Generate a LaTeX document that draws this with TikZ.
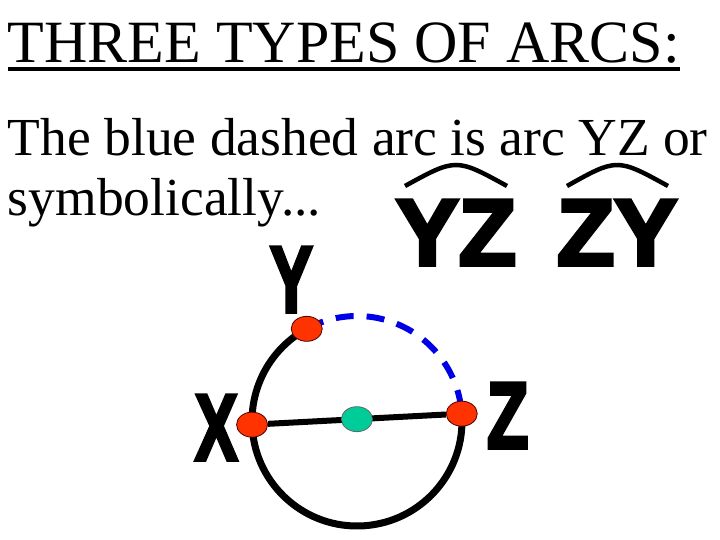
\documentclass[tikz,border=0pt]{standalone}
\usepackage{fontspec}
\setmainfont{Liberation Serif}
\newfontfamily\heavyfont[FakeBold=4]{Liberation Sans Bold}
\usetikzlibrary{calc,shapes.geometric}
\definecolor{dotred}{RGB}{255,51,0}
\definecolor{dotgreen}{RGB}{0,204,153}
\definecolor{arcblue}{RGB}{0,0,230}
\tikzset{
  txt/.style={anchor=base west, inner sep=0pt, outer sep=0pt},
  heavy/.style={anchor=base west, inner sep=0pt, outer sep=0pt, font=\heavyfont\fontsize{94}{94}\selectfont},
  reddot/.style={ellipse, minimum width=31pt, minimum height=25pt, inner sep=0pt, fill=dotred, draw=black!70!red, line width=0.8pt},
  greendot/.style={ellipse, minimum width=31pt, minimum height=25pt, inner sep=0pt, fill=dotgreen, draw=black!60, line width=0.8pt},
  arcline/.style={line width=7pt},
  chord/.style={line width=6pt},
  bluedash/.style={line width=6pt, draw=arcblue, dash pattern=on 18pt off 13pt},
  overarc/.style={line width=4.5pt}
}
\begin{document}
\begin{tikzpicture}[x=1pt,y=-1pt]
\useasboundingbox (0,0) rectangle (720,540);
% title
\node[txt, font=\fontsize{60}{60}\selectfont] (title) at (8,63) {THREE TYPES OF ARCS:};
\draw[line width=3.5pt] ([yshift=-6pt]title.base west) -- ([yshift=-6pt]title.base east);
% body
\node[txt, font=\fontsize{53.5}{53.5}\selectfont] (l1) at (8,156) {The blue dashed arc is arc YZ or};
\node[txt, font=\fontsize{53.5}{53.5}\selectfont] (l2) at (8,215) {symbolically...};
% symbols
\node[heavy] (yz) at (396,265) {YZ};
\node[heavy] (zy) at (557,265) {ZY};
\draw[overarc] (405,186) .. controls (456,158) .. (507,186);
\draw[overarc] (567,186) .. controls (617,158) .. (668,186);
% circle
\coordinate (O) at (357,421);
\coordinate (Yp) at ($(O)+(-118.6:105)$);
\coordinate (Zp) at ($(O)+(-4:105)$);
\coordinate (Xp) at ($(O)+(178:105)$);
\draw[arcline] (Zp) arc[start angle=-4, end angle=241.4, radius=105];
\draw[bluedash] (Yp) arc[start angle=-118.6, end angle=-4, radius=105];
\node[reddot] (Y) at (Yp) {};
\node[reddot] (Z) at (Zp) {};
\node[reddot] (X) at (Xp) {};
\draw[chord] (X) -- (Z);
\node[greendot] (C) at ($(X)!0.5!(Z)$) {};
% labels
\node[heavy] (ly) at (270,312) {\scalebox{0.68}[1]{Y}};
\node[heavy] (lx) at (195,460) {\scalebox{0.68}[1]{X}};
\node[heavy] (lz) at (487,448) {\scalebox{0.72}[1]{Z}};
\end{tikzpicture}
\end{document}
